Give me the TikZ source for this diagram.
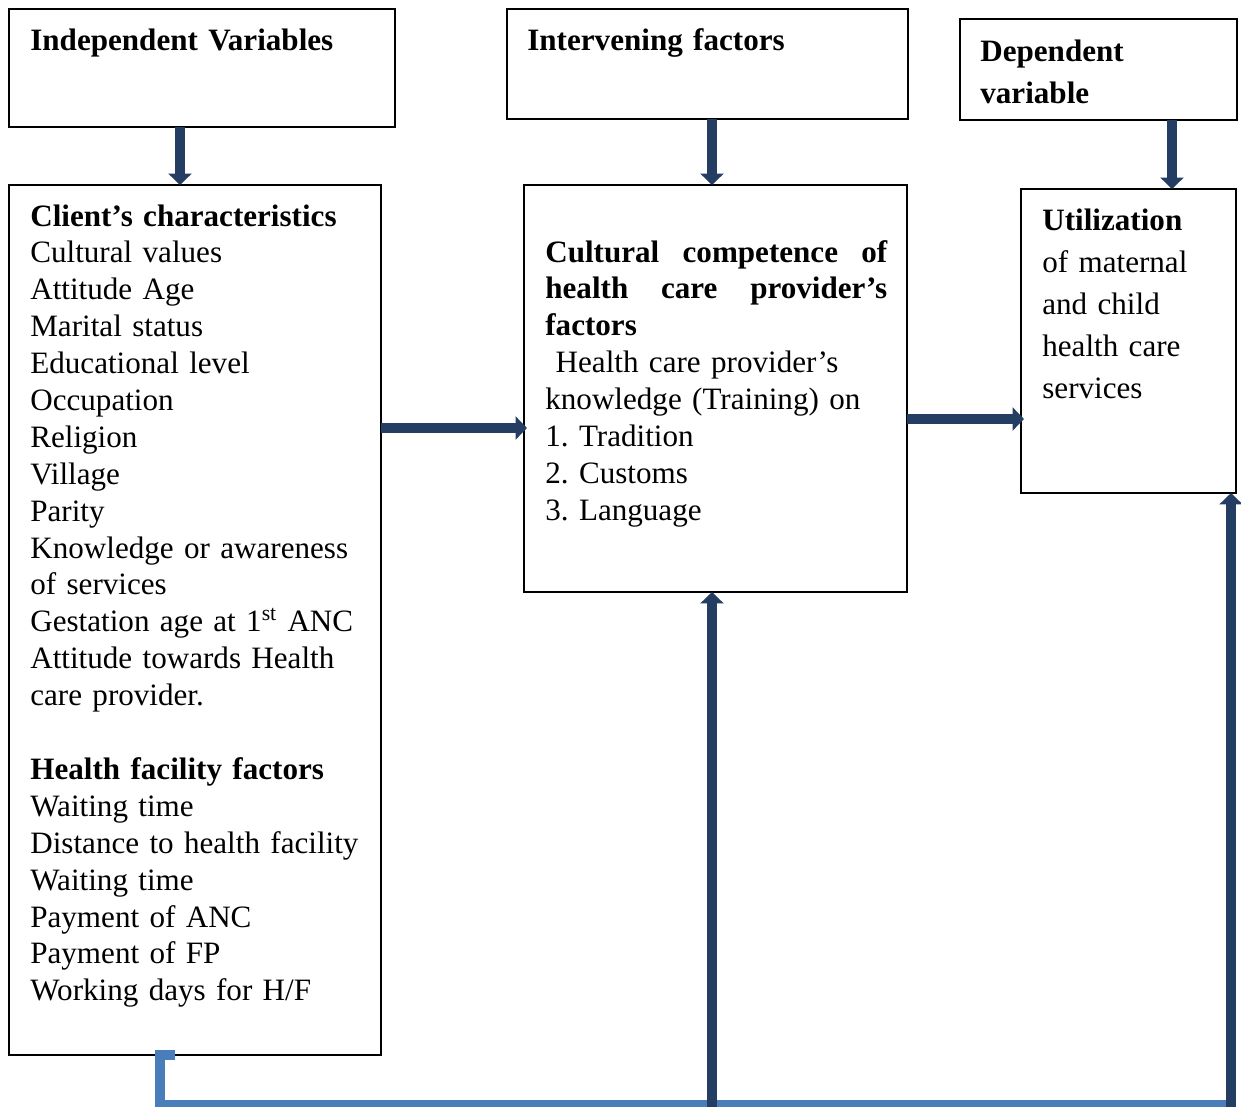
\documentclass[tikz,border=0pt]{standalone}
\usepackage{fontspec}
\setmainfont{Liberation Serif}
\usetikzlibrary{arrows.meta, positioning, calc, fit}
\definecolor{navy}{RGB}{36,62,99}
\definecolor{linkblue}{RGB}{74,126,187}
\frenchspacing

\begin{document}
\begin{tikzpicture}[
                x=0.02cm, y=-0.02cm,
                frame/.style={rectangle, draw=black, line width=1.1pt, inner sep=0pt, outer sep=0pt},
                boxtext/.style={anchor=base west, inner sep=0pt, align=left, text width=7cm, font=\fontsize{17.7}{21}\selectfont},
                widetext/.style={boxtext, text width=4.2cm, font=\fontsize{17.7}{24}\selectfont},
                arrow/.style={draw=navy, line width=5.6pt, -{Triangle[width=13pt, length=6.5pt]}},
                link/.style={draw=linkblue, line width=5.6pt}
            ]%
            \useasboundingbox (0,0) rectangle (1241,1106);
            %
            % Cadres du haut
            \node[frame, fit={(9,9) (395,127)}] (indep) {};
            \node[frame, fit={(507,9) (908,119)}] (interv) {};
            \node[frame, fit={(960,19) (1237,120)}] (dep) {};
            %
            % Cadres principaux
            \node[frame, fit={(9,185) (381,1055)}] (client) {};
            \node[frame, fit={(524,185) (907,592)}] (compet) {};
            \node[frame, fit={(1021,189) (1236,493)}] (util) {};
            %
            % Textes
            \node[boxtext, font=\fontsize{17.7}{21}\selectfont\bfseries] (indep-t) at ($(indep.north west)+(21,41)$) {Independent Variables};
            \node[boxtext, font=\fontsize{17.7}{21}\selectfont\bfseries] (interv-t) at ($(interv.north west)+(20,41)$) {Intervening factors};
            \node[widetext, font=\fontsize{17.7}{24}\selectfont\bfseries] (dep-t) at ($(dep.north west)+(20,42)$) {Dependent\\variable};
            %
            \node[boxtext] (client-t) at ($(client.north west)+(21,41)$) {%
                \textbf{Client’s characteristics}\\
                Cultural values\\
                Attitude Age\\
                Marital status\\
                Educational level\\
                Occupation\\
                Religion\\
                Village\\
                Parity\\
                Knowledge or awareness\\
                of services\\
                Gestation age at 1\textsuperscript{st} ANC\\
                Attitude towards Health\\
                care provider.\\
                \mbox{}\\
                \textbf{Health facility factors}\\
                Waiting time\\
                Distance to health facility\\
                Waiting time\\
                Payment of ANC\\
                Payment of FP\\
                Working days for H/F};
            %
            \node[boxtext, text width=6.84cm] (compet-t) at ($(compet.north west)+(21,77)$) {%
                \makebox[6.84cm][s]{\bfseries Cultural\hfill competence\hfill of}\\
                \makebox[6.84cm][s]{\bfseries health\hfill care\hfill provider’s}\\
                \textbf{factors}\\
                \ Health care provider’s\\
                knowledge (Training) on\\
                1. Tradition\\
                2. Customs\\
                3. Language};
            %
            \node[widetext] (util-t) at ($(util.north west)+(21,41)$) {%
                \textbf{Utilization}\\
                of maternal\\
                and child\\
                health care\\
                services};
            %
            % Colonnes et rangées des fleches
            \coordinate (colA) at (180,0);
            \coordinate (colB) at (712,0);
            \coordinate (colC) at (1172,0);
            \coordinate (rowA) at (0,428);
            \coordinate (rowB) at (0,419);
            \coordinate (baseB) at (712,1112);
            \coordinate (baseC) at (1231,1112);
            \coordinate (linkend) at (1236,1105);
            %
            % Lien de retour (bleu)
            \draw[link] ($(client.south west)+(166,0)$) -- ++(-15,0) |- (linkend);
            %
            % Fleches
            \draw[arrow] (indep.south -| colA) -- (client.north -| colA);
            \draw[arrow] (interv.south -| colB) -- (compet.north -| colB);
            \draw[arrow] (dep.south -| colC) -- (util.north -| colC);
            \draw[arrow] (client.east |- rowA) -- ([xshift=3*0.02cm]compet.west |- rowA);
            \draw[arrow] (compet.east |- rowB) -- ([xshift=3*0.02cm]util.west |- rowB);
            \draw[arrow] (baseB) -- (compet.south -| baseB);
            \draw[arrow] (baseC) -- (util.south -| baseC);
        \end{tikzpicture}
\end{document}
